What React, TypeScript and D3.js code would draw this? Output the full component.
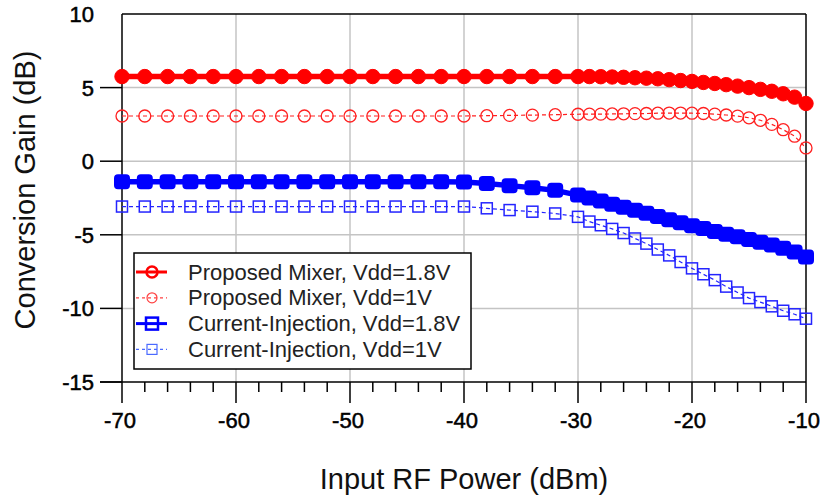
import React from "react";
import * as d3 from "d3";

const inputPower = [-70,-68,-66,-64,-62,-60,-58,-56,-54,-52,-50,-48,-46,-44,-42,-40,-38,-36,-34,-32,-30,-29,-28,-27,-26,-25,-24,-23,-22,-21,-20,-19,-18,-17,-16,-15,-14,-13,-12,-11,-10];

const proposed18 = [5.75,5.75,5.75,5.75,5.75,5.75,5.75,5.75,5.75,5.75,5.75,5.75,5.75,5.75,5.75,5.75,5.75,5.75,5.75,5.75,5.75,5.75,5.74,5.72,5.7,5.67,5.64,5.6,5.54,5.48,5.42,5.35,5.28,5.2,5.1,5.0,4.88,4.75,4.58,4.35,3.92];

const proposed1 = [3.07,3.07,3.07,3.07,3.07,3.07,3.07,3.07,3.07,3.07,3.07,3.07,3.07,3.07,3.07,3.07,3.09,3.11,3.13,3.16,3.19,3.2,3.2,3.21,3.22,3.23,3.24,3.26,3.27,3.27,3.26,3.24,3.2,3.14,3.06,2.95,2.78,2.5,2.14,1.7,0.9];

const current18 = [-1.39,-1.39,-1.39,-1.39,-1.39,-1.39,-1.39,-1.39,-1.39,-1.39,-1.39,-1.39,-1.39,-1.39,-1.39,-1.42,-1.52,-1.66,-1.8,-1.98,-2.3,-2.5,-2.7,-2.92,-3.12,-3.33,-3.54,-3.76,-3.98,-4.18,-4.38,-4.58,-4.78,-4.96,-5.14,-5.32,-5.5,-5.7,-5.92,-6.16,-6.5];

const current1 = [-3.08,-3.08,-3.08,-3.08,-3.08,-3.08,-3.08,-3.08,-3.08,-3.08,-3.08,-3.08,-3.08,-3.08,-3.08,-3.08,-3.2,-3.32,-3.43,-3.55,-3.78,-4.1,-4.35,-4.6,-4.88,-5.25,-5.6,-6.0,-6.4,-6.85,-7.28,-7.68,-8.08,-8.52,-8.92,-9.3,-9.57,-9.86,-10.16,-10.4,-10.7];

const xTicks = [-70,-60,-50,-40,-30,-20,-10];
const xMinorTicks = [-68,-66,-64,-62,-58,-56,-54,-52,-48,-46,-44,-42,-38,-36,-34,-32,-28,-26,-24,-22,-18,-16,-14,-12];
const yTicks = [-15,-10,-5,0,5,10];
const seriesNames = [
  "Proposed Mixer, Vdd=1.8V",
  "Proposed Mixer, Vdd=1V",
  "Current-Injection, Vdd=1.8V",
  "Current-Injection, Vdd=1V",
];

const FONT = "'Liberation Sans', Arial, sans-serif";

export default function App() {
  const W = 822, H = 503;
  const x = d3.scaleLinear().domain([-70, -10]).range([122, 806]);
  const y = d3.scaleLinear().domain([-15, 10]).range([382, 14]);
  const line = d3
    .line<[number, number]>()
    .x((d) => x(d[0]))
    .y((d) => y(d[1]));
  const pts = (vals: number[]) => inputPower.map((p, i) => [p, vals[i]] as [number, number]);

  const red = "#ff0000";
  const redL = "#ff2020";
  const blue = "#0000ff";
  const blueL = "#2424ff";

  const xL = x(-70), xR = x(-10), yT = y(10), yB = y(-15);

  return (
    <svg width={W} height={H} style={{ position: "absolute", left: 0, top: 0, background: "#fff" }} fontFamily={FONT}>
      <rect x={0} y={0} width={W} height={H} fill="#fff" />
      {/* grid */}
      {xTicks.filter((t) => t !== -70 && t !== -10).map((t) => (
        <line key={"gx" + t} x1={x(t)} x2={x(t)} y1={yT} y2={yB} stroke="#c4c4c4" strokeWidth={1.5} />
      ))}
      {yTicks.filter((t) => t !== -15 && t !== 10).map((t) => (
        <line key={"gy" + t} x1={xL} x2={xR} y1={y(t)} y2={y(t)} stroke="#c4c4c4" strokeWidth={1.5} />
      ))}
      {/* frame */}
      <line x1={xL} x2={xR} y1={yT} y2={yT} stroke="#000" strokeWidth={1.5} />
      <line x1={xR} x2={xR} y1={yT} y2={yB} stroke="#000" strokeWidth={1.5} />
      <line x1={xL} x2={xL} y1={yT} y2={yB} stroke="#000" strokeWidth={1.5} />
      <line x1={100} x2={xR} y1={yB} y2={yB} stroke="#000" strokeWidth={1.5} />
      {/* x ticks */}
      {xTicks.map((t) => (
        <g key={"xt" + t}>
          <line x1={x(t)} x2={x(t)} y1={yB} y2={yB + 21} stroke="#000" strokeWidth={1.5} />
          <text x={x(t) - 2} y={428} fontSize={22} textAnchor="middle" fill="#000" stroke="#000" strokeWidth={0.5}>{t}</text>
        </g>
      ))}
      {xMinorTicks.map((t) => (
        <line key={"xm" + t} x1={x(t)} x2={x(t)} y1={yB} y2={yB + 10} stroke="#000" strokeWidth={1.5} />
      ))}
      {/* y ticks */}
      {yTicks.map((t) => (
        <g key={"yt" + t}>
          {t !== 10 && <line x1={100} x2={xL} y1={y(t)} y2={y(t)} stroke="#000" strokeWidth={1.5} />}
          <text x={94} y={y(t) + 8} fontSize={22} textAnchor="end" fill="#000" stroke="#000" strokeWidth={0.5}>{t}</text>
        </g>
      ))}
      {/* axis titles */}
      <text x={464} y={489} fontSize={29} textAnchor="middle" fill="#111">Input RF Power (dBm)</text>
      <text transform={`translate(35,190) rotate(-90)`} fontSize={29} textAnchor="middle" fill="#111">Conversion Gain (dB)</text>

      {/* Current-Injection 1V */}
      <path d={line(pts(current1)) || ""} fill="none" stroke={blueL} strokeWidth={1.2} strokeDasharray="4,3" />
      {inputPower.map((p, i) => (
        <rect key={"c1" + i} x={x(p) - 5.5} y={y(current1[i]) - 5.5} width={11} height={11} fill="none" stroke={blueL} strokeWidth={1.5} />
      ))}
      {/* Current-Injection 1.8V */}
      <path d={line(pts(current18)) || ""} fill="none" stroke={blue} strokeWidth={5.5} />
      {inputPower.map((p, i) => (
        <rect key={"c18" + i} x={x(p) - 7} y={y(current18[i]) - 6.5} width={14} height={13} rx={3} fill={blue} stroke={blue} strokeWidth={2} />
      ))}
      {/* Proposed 1V */}
      <path d={line(pts(proposed1)) || ""} fill="none" stroke={redL} strokeWidth={1.2} strokeDasharray="4,3" />
      {inputPower.map((p, i) => (
        <circle key={"p1" + i} cx={x(p)} cy={y(proposed1[i])} r={6} fill="none" stroke={redL} strokeWidth={1.3} />
      ))}
      {/* Proposed 1.8V */}
      <path d={line(pts(proposed18)) || ""} fill="none" stroke={red} strokeWidth={5.5} />
      {inputPower.map((p, i) => (
        <circle key={"p18" + i} cx={x(p)} cy={y(proposed18[i])} r={7.2} fill={red} stroke={red} strokeWidth={1} />
      ))}

      {/* legend */}
      <rect x={134} y={253} width={337} height={116} fill="#fff" stroke="#000" strokeWidth={1.5} />
      {seriesNames.map((name, i) => {
        const cy = 272 + i * 25.8;
        const col = i < 2 ? (i === 0 ? red : "#ff4040") : i === 2 ? blue : "#4a6aff";
        const solid = i % 2 === 0;
        return (
          <g key={"lg" + i}>
            <line x1={136} x2={167} y1={cy} y2={cy} stroke={col} strokeWidth={solid ? 3 : 1.2} strokeDasharray={solid ? undefined : "3,3"} />
            {i < 2 ? (
              <circle cx={152} cy={cy} r={solid ? 5.5 : 5} fill="none" stroke={col} strokeWidth={solid ? 2.5 : 1.2} />
            ) : (
              <rect x={152 - (solid ? 6 : 5)} y={cy - (solid ? 6 : 5)} width={solid ? 12 : 10} height={solid ? 12 : 10} fill="none" stroke={col} strokeWidth={solid ? 2.5 : 1.2} />
            )}
            <text x={188} y={cy + 7.5} fontSize={22} fill="#222">{name}</text>
          </g>
        );
      })}
    </svg>
  );
}
